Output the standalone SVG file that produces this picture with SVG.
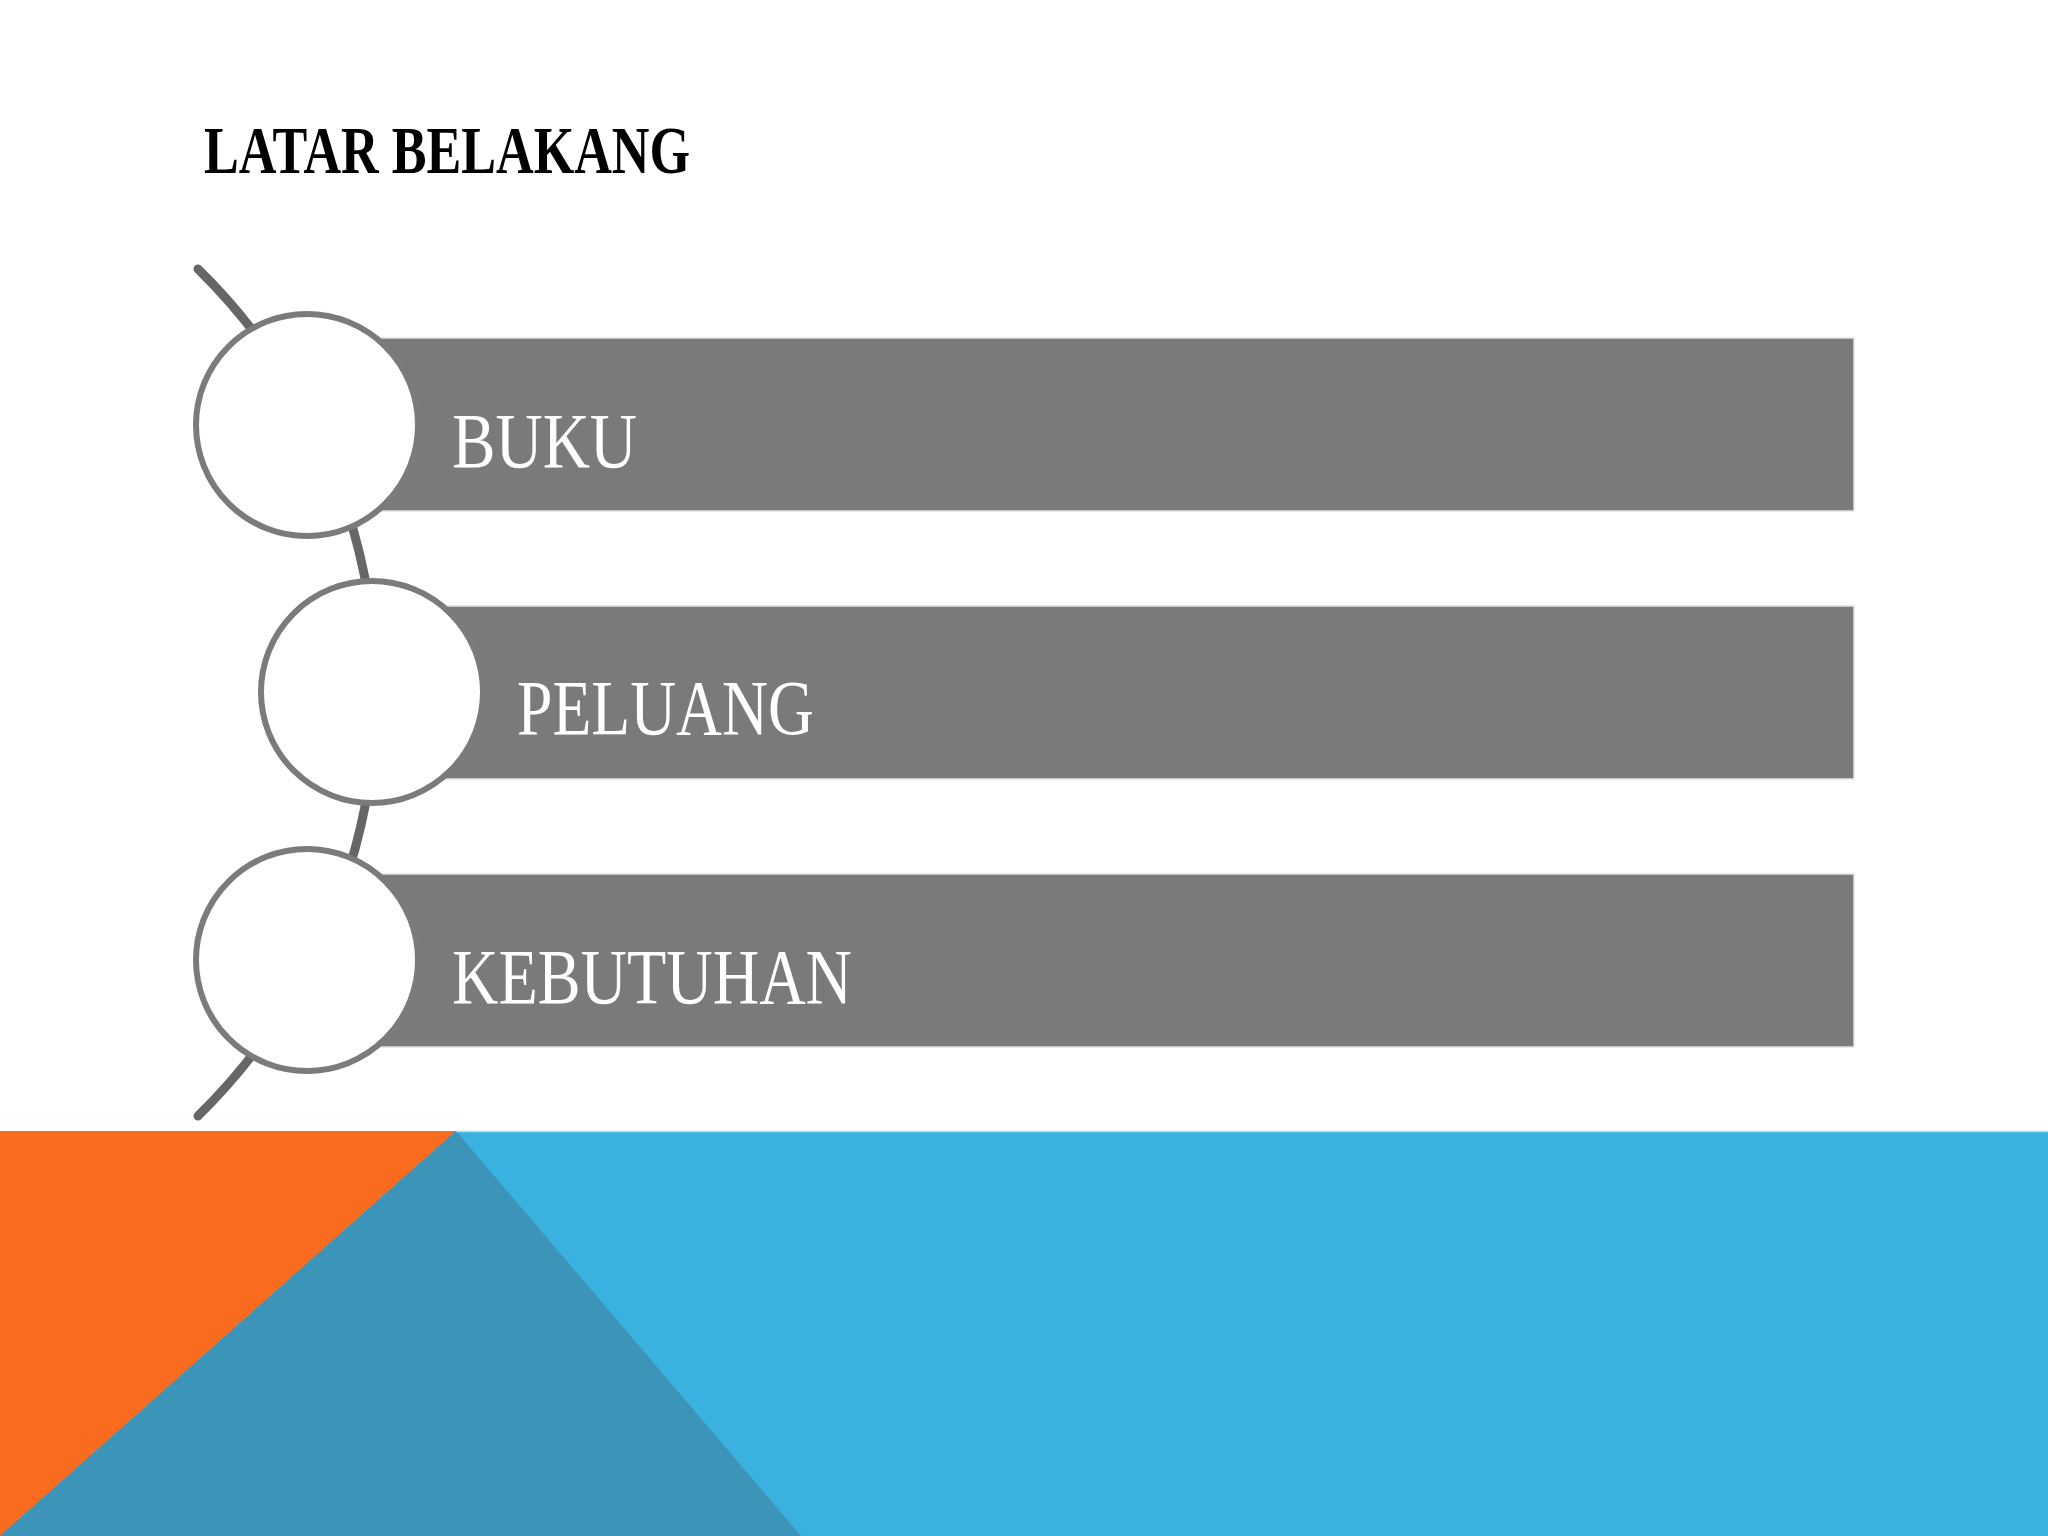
<svg xmlns="http://www.w3.org/2000/svg" width="2048" height="1536" viewBox="0 0 2048 1536">
  <style>
    .bar { fill: #7a7a7c; stroke: #e2e2e2; stroke-width: 1.5; }
    .ring { fill: #ffffff; stroke: #7b7b7b; stroke-width: 6; }
    .label { font-family: "Liberation Serif", "DejaVu Serif", serif; fill: #ffffff; font-size: 78px; }
    .title { font-family: "Liberation Serif", "DejaVu Serif", serif; font-weight: bold; fill: #000000; font-size: 68px; }
  </style>
  <rect x="0" y="0" width="2048" height="1536" fill="#ffffff"/>

  <g id="background">
    <rect x="0" y="1131" width="2048" height="405" fill="#3bb1df"/>
    <polygon points="0,1131 456,1131 0,1536" fill="#f96b1e"/>
    <polygon points="456,1131 801,1536 0,1536" fill="#3c95b8"/>
    <line x1="456" y1="1131.5" x2="2048" y2="1131.5" stroke="#a8ddf0" stroke-width="1.5"/>
  </g>

  <g id="title">
    <text class="title" x="204" y="173" textLength="486" lengthAdjust="spacingAndGlyphs">LATAR BELAKANG</text>
  </g>

  <g id="connectors">
    <path d="M 198 269 A 593 593 0 0 1 198 1116" fill="none" stroke="#666666" stroke-width="9" stroke-linecap="round"/>
  </g>

  <g id="node-buku">
    <rect class="bar" x="380" y="338" width="1474" height="173"/>
    <circle class="ring" cx="307" cy="425" r="111"/>
    <text class="label" x="452" y="467" textLength="185" lengthAdjust="spacingAndGlyphs">BUKU</text>
  </g>

  <g id="node-peluang">
    <rect class="bar" x="444" y="606" width="1410" height="173"/>
    <circle class="ring" cx="372" cy="692" r="111"/>
    <text class="label" x="517" y="734" textLength="297" lengthAdjust="spacingAndGlyphs">PELUANG</text>
  </g>

  <g id="node-kebutuhan">
    <rect class="bar" x="380" y="874" width="1474" height="173"/>
    <circle class="ring" cx="307" cy="960" r="111"/>
    <text class="label" x="452" y="1003" textLength="400" lengthAdjust="spacingAndGlyphs">KEBUTUHAN</text>
  </g>
</svg>
